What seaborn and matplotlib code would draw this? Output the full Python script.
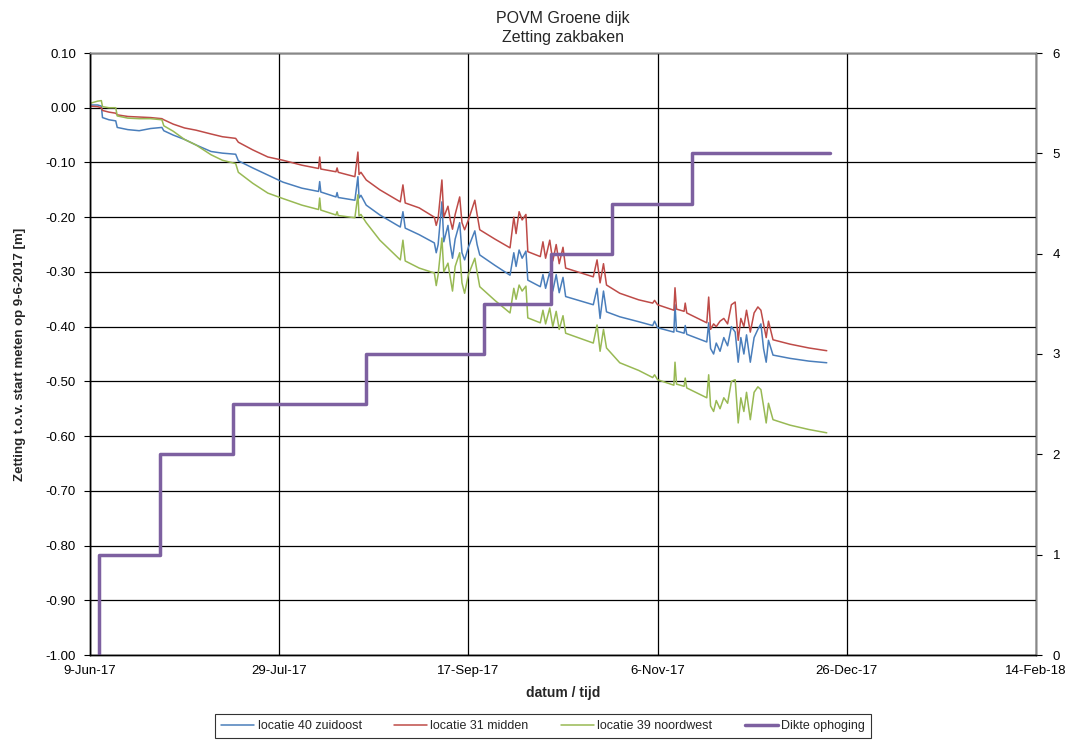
import numpy as np
import pandas as pd
import matplotlib
matplotlib.use("Agg")
import matplotlib.pyplot as plt
import matplotlib.dates as mdates
import seaborn as sns

sns.set_theme(style="white")
plt.rcParams['font.family'] = ['Liberation Sans', 'DejaVu Sans']

# ---- data (days after 9-Jun-2017) ----
start = pd.Timestamp("2017-06-09")
days = [0, 2, 3.0, 3.3, 5, 6.8, 7.2, 10, 13, 16, 19, 19.5, 22, 25, 28, 32, 35, 38.5, 39.2, 43, 47, 51, 56,
        60.4, 60.7, 61.0, 65, 65.3, 65.6, 70, 70.8, 71.1, 71.6, 73, 76.6, 82, 82.7, 83.3, 87, 91, 91.5, 92,
        93, 93.5, 94.6, 95.2, 95.8, 96.5, 97.7, 98.3, 99, 100, 101.7, 102.3, 103, 107, 111, 112, 112.6,
        113.4, 114.2, 115.2, 115.7, 119, 119.7, 120.4, 121.5, 122.3, 123.2, 124, 125, 125.7, 133, 134,
        134.8, 135.7, 136.5, 140, 145, 148.7, 149.2, 150, 154.3, 154.6, 155.0, 157, 157.3, 157.7, 163,
        163.5, 164.0, 164.8, 165.5, 166.5, 167.5, 168.5, 169.5, 170.5, 171.3, 172.0, 172.8, 173.5, 174.5,
        175.5, 176.5, 177.3, 178.0, 178.7, 179.3, 180.5, 185, 190, 194.7]
loc40 = [0.005, 0.005, 0.003, -0.018, -0.022, -0.024, -0.036, -0.040, -0.042, -0.038, -0.036, -0.042,
         -0.050, -0.058, -0.068, -0.080, -0.083, -0.085, -0.097, -0.110, -0.123, -0.136, -0.147,
         -0.153, -0.135, -0.154, -0.163, -0.155, -0.164, -0.169, -0.126, -0.165, -0.160, -0.178, -0.196,
         -0.218, -0.190, -0.220, -0.232, -0.247, -0.265, -0.250,
         -0.172, -0.245, -0.215, -0.250, -0.275, -0.240, -0.210, -0.265, -0.278, -0.255, -0.225, -0.250,
         -0.269, -0.288, -0.306, -0.265, -0.290,
         -0.260, -0.275, -0.262, -0.315, -0.327, -0.305, -0.330, -0.300, -0.335, -0.305, -0.338, -0.310,
         -0.345, -0.360, -0.330,
         -0.385, -0.335, -0.373, -0.382, -0.391, -0.398, -0.390, -0.402, -0.410, -0.360, -0.408, -0.412,
         -0.398, -0.414, -0.428,
         -0.393, -0.440, -0.450, -0.430, -0.445, -0.420, -0.435, -0.400, -0.410, -0.465, -0.420, -0.450,
         -0.415, -0.465, -0.420, -0.405, -0.395, -0.440, -0.465, -0.425, -0.452, -0.458, -0.463, -0.466]
loc31 = [0.003, 0.002, 0.000, -0.005, -0.008, -0.010, -0.013, -0.016, -0.017, -0.018, -0.020, -0.022,
         -0.030, -0.037, -0.041, -0.048, -0.053, -0.056, -0.063, -0.077, -0.090, -0.096, -0.105,
         -0.111, -0.090, -0.112, -0.117, -0.110, -0.118, -0.126, -0.081, -0.122, -0.118, -0.132, -0.150,
         -0.172, -0.141, -0.174, -0.183, -0.200, -0.215, -0.202,
         -0.132, -0.200, -0.180, -0.205, -0.222, -0.195, -0.163, -0.210, -0.223, -0.205, -0.169, -0.195,
         -0.223, -0.240, -0.256, -0.200, -0.230,
         -0.190, -0.205, -0.195, -0.263, -0.272, -0.245, -0.275, -0.242, -0.280, -0.250, -0.285, -0.255,
         -0.293, -0.309, -0.278,
         -0.320, -0.285, -0.324, -0.339, -0.351, -0.357, -0.352, -0.360, -0.370, -0.329, -0.368, -0.372,
         -0.357, -0.375, -0.393,
         -0.346, -0.405, -0.395, -0.400, -0.390, -0.385, -0.395, -0.360, -0.355, -0.425, -0.385, -0.400,
         -0.370, -0.410, -0.375, -0.364, -0.370, -0.395, -0.420, -0.390, -0.424, -0.432, -0.439, -0.444]
loc39 = [0.008, 0.012, 0.013, 0.002, 0.000, 0.000, -0.015, -0.019, -0.020, -0.020, -0.022, -0.033,
         -0.043, -0.058, -0.068, -0.086, -0.096, -0.102, -0.118, -0.138, -0.156, -0.166, -0.178,
         -0.186, -0.165, -0.187, -0.196, -0.190, -0.197, -0.201, -0.159, -0.198, -0.195, -0.210, -0.242,
         -0.278, -0.242, -0.280, -0.293, -0.302, -0.325, -0.305,
         -0.238, -0.300, -0.284, -0.310, -0.335, -0.290, -0.265, -0.320, -0.339, -0.305, -0.275, -0.300,
         -0.327, -0.352, -0.375, -0.330, -0.350,
         -0.324, -0.335, -0.326, -0.384, -0.393, -0.370, -0.395, -0.366, -0.400, -0.372, -0.405, -0.380,
         -0.412, -0.430, -0.397,
         -0.445, -0.405, -0.439, -0.466, -0.480, -0.493, -0.488, -0.497, -0.507, -0.465, -0.505, -0.509,
         -0.494, -0.512, -0.530,
         -0.488, -0.545, -0.555, -0.535, -0.550, -0.530, -0.540, -0.500, -0.497, -0.576, -0.530, -0.555,
         -0.520, -0.570, -0.520, -0.510, -0.515, -0.545, -0.576, -0.540, -0.570, -0.580, -0.588, -0.594]

step_days = [2.3, 2.4, 18.5, 37.8, 72.9, 104.0, 121.7, 138.0, 159.0, 195.5]
dikte = [0, 1, 2, 2.5, 3, 3.5, 4, 4.5, 5, 5]

series = [("locatie 40 zuidoost", loc40, "#4A7EBB"),
          ("locatie 31 midden", loc31, "#BE4B48"),
          ("locatie 39 noordwest", loc39, "#98B954")]

dates = start + pd.to_timedelta(days, unit="D")
sdates = start + pd.to_timedelta(step_days, unit="D")

fig = plt.figure(figsize=(10.78, 7.40), dpi=100)
ax = fig.add_axes([90/1078, 1-655/740, (1036-90)/1078, (655-53)/740])
ax2 = ax.twinx()

for name, vals, col in series:
    sns.lineplot(x=dates, y=vals, ax=ax, color=col, lw=1.1, label=name,
                 estimator=None, sort=False, legend=False)
sns.lineplot(x=sdates, y=dikte, ax=ax2, color="#7D60A0", lw=2.5, label="Dikte ophoging",
             estimator=None, sort=False, drawstyle="steps-post", legend=False)

xticks = [start + pd.Timedelta(days=50*i) for i in range(6)]
ax.set_xlim(xticks[0], xticks[-1])
ax.set_xticks(xticks)
ax.xaxis.set_major_formatter(mdates.DateFormatter('%-d-%b-%y'))
ax.set_ylim(-1.0, 0.1)
yt = np.round(np.arange(-1.0, 0.1001, 0.1), 2)
ax.set_yticks(yt)
ax.set_yticklabels([f"{abs(v):.2f}" if abs(v) < 1e-9 else f"{v:.2f}" for v in yt])
ax2.set_ylim(0, 6)
ax2.set_yticks(range(7))

ax.grid(True, color="black", lw=0.9)
ax.set_axisbelow(True)
for a in (ax, ax2):
    for s in a.spines.values():
        s.set_color("black")
        s.set_linewidth(1.0)
    a.tick_params(axis="both", labelsize=9.5, colors="black", length=4, width=0.8, direction="out")
ax2.spines['right'].set_color("#888888")
ax2.spines['top'].set_color("#888888")
ax.tick_params(axis="x", pad=3)
ax.tick_params(axis="y", pad=6)
ax2.tick_params(axis="y", pad=8)

ax.set_xlabel("datum / tijd", fontsize=10, fontweight="bold", labelpad=7)
ax.set_ylabel("Zetting t.o.v. start meten op 9-6-2017 [m]", fontsize=9.5, fontweight="bold", labelpad=14)
ax2.set_ylabel("")
ax.set_title("POVM Groene dijk\nZetting zakbaken", fontsize=11.5, pad=8, linespacing=1.35)

h1, l1 = ax.get_legend_handles_labels()
h2, l2 = ax2.get_legend_handles_labels()
leg = fig.legend(h1 + h2, l1 + l2, loc="lower center", bbox_to_anchor=(0.504, -0.006), ncol=4,
                 fontsize=9, frameon=True, fancybox=False, edgecolor="black",
                 handlelength=2.6, columnspacing=2.6, borderpad=0.5, handletextpad=0.3)
leg.get_frame().set_linewidth(0.8)

fig.savefig("out.png", dpi=100)
